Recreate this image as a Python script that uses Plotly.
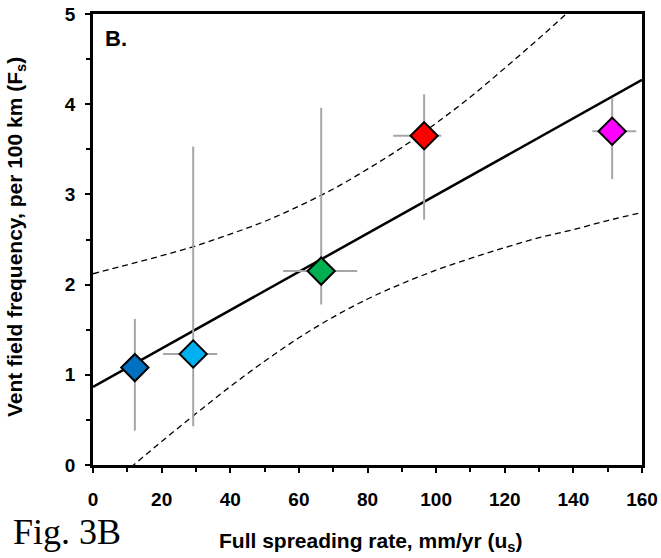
import plotly.graph_objects as go

# ---- data ----
rate = [12.2, 29.2, 66.5, 96.5, 151.3]          # full spreading rate, mm/yr
freq = [1.08, 1.23, 2.15, 3.65, 3.70]           # vent field frequency per 100 km
rate_lo = [10.7, 20.4, 55.4, 87.5, 145.5]
rate_hi = [13.7, 36.2, 77.0, 101.5, 158.3]
freq_lo = [0.38, 0.43, 1.78, 2.72, 3.17]
freq_hi = [1.62, 3.53, 3.96, 4.11, 4.07]
colors = ["#0070C0", "#00B0F0", "#00B050", "#FF0000", "#FF00FF"]

fit_x = [0, 160]
fit_y = [0.865, 4.27]

band_x = [0, 10, 20, 30, 40, 50, 60, 70, 80, 90, 100, 110, 120, 130, 140, 150, 160]
band_upper = [2.12, 2.22, 2.32, 2.43, 2.56, 2.70, 2.87, 3.06, 3.28, 3.52, 3.79, 4.08, 4.40, 4.73, 5.07, 5.40, 5.75]
band_lower = [-0.39, -0.06, 0.26, 0.57, 0.87, 1.15, 1.41, 1.64, 1.84, 2.01, 2.16, 2.29, 2.41, 2.52, 2.61, 2.71, 2.80]

x_ticks = [0, 20, 40, 60, 80, 100, 120, 140, 160]
y_ticks = [0, 1, 2, 3, 4, 5]

# ---- figure ----
W, H = 661, 558
L, R, T, B = 93, 19, 14, 93
pw, ph = W - L - R, H - T - B

def px(xp):
    return (xp - L) / pw

def py(yp):
    return (H - B - yp) / ph

FONT = "Liberation Sans, Arial, sans-serif"

fig = go.Figure()

for yy in (band_upper, band_lower):
    fig.add_trace(go.Scatter(
        x=band_x, y=yy, mode="lines", line=dict(color="black", width=1.3, dash="6px,4px", shape="spline"),
        hoverinfo="skip", showlegend=False))

fig.add_trace(go.Scatter(
    x=fit_x, y=fit_y, mode="lines", line=dict(color="black", width=2.5),
    hoverinfo="skip", showlegend=False))

fig.add_trace(go.Scatter(
    x=rate, y=freq, mode="markers",
    marker=dict(symbol="diamond", size=21, color=colors, line=dict(color="black", width=2)),
    error_x=dict(type="data", symmetric=False,
                 array=[h - v for h, v in zip(rate_hi, rate)],
                 arrayminus=[v - l for l, v in zip(rate_lo, rate)],
                 color="#A6A6A6", thickness=2, width=0),
    error_y=dict(type="data", symmetric=False,
                 array=[h - v for h, v in zip(freq_hi, freq)],
                 arrayminus=[v - l for l, v in zip(freq_lo, freq)],
                 color="#A6A6A6", thickness=2, width=0),
    cliponaxis=False, showlegend=False))

fig.update_xaxes(
    range=[0, 160], tickvals=x_ticks, ticktext=[f"<b>{v}</b>" for v in x_ticks],
    ticks="outside", ticklen=5, tickwidth=2, tickcolor="black",
    minor=dict(dtick=10, ticks="outside", ticklen=4, tickwidth=2, tickcolor="black"),
    showline=True, linecolor="black", linewidth=2.5, mirror=True, showgrid=False, zeroline=False,
    automargin=False,
    tickfont=dict(family=FONT, size=19, color="black"), ticklabelstandoff=10)
fig.update_yaxes(
    range=[0, 5], tickvals=y_ticks, ticktext=[f"<b>{v}</b>" for v in y_ticks],
    ticks="outside", ticklen=5, tickwidth=2, tickcolor="black",
    minor=dict(dtick=0.5, ticks="outside", ticklen=4, tickwidth=2, tickcolor="black"),
    showline=True, linecolor="black", linewidth=2.5, mirror=True, showgrid=False, zeroline=False,
    automargin=False,
    tickfont=dict(family=FONT, size=19, color="black"), ticklabelstandoff=6)

annotations = [
    dict(text="<b>B.</b>", x=px(103), y=py(38), xanchor="left", yanchor="middle",
         font=dict(family=FONT, size=22, color="black")),
    dict(text="<b>Full spreading rate, mm/yr (u<sub>s</sub>)</b>", x=px(370), y=py(542),
         xanchor="center", yanchor="middle", font=dict(family=FONT, size=21, color="black")),
    dict(text="<b>Vent field frequency, per 100 km (F<sub>s</sub>)</b>", x=px(16), y=py(237),
         xanchor="center", yanchor="middle", textangle=-90, font=dict(family=FONT, size=21, color="black")),
    dict(text="Fig. 3B", x=px(11), y=py(532), xanchor="left", yanchor="middle",
         font=dict(family="Liberation Serif, Times New Roman, serif", size=36, color="black")),
]
for a in annotations:
    a.update(xref="paper", yref="paper", showarrow=False)

fig.update_layout(
    width=W, height=H, margin=dict(l=L, r=R, t=T, b=B, pad=0),
    paper_bgcolor="white", plot_bgcolor="white", annotations=annotations, showlegend=False)

fig.write_html("out.html", config={"displayModeBar": False},
               post_script="document.body.style.margin='0';")
